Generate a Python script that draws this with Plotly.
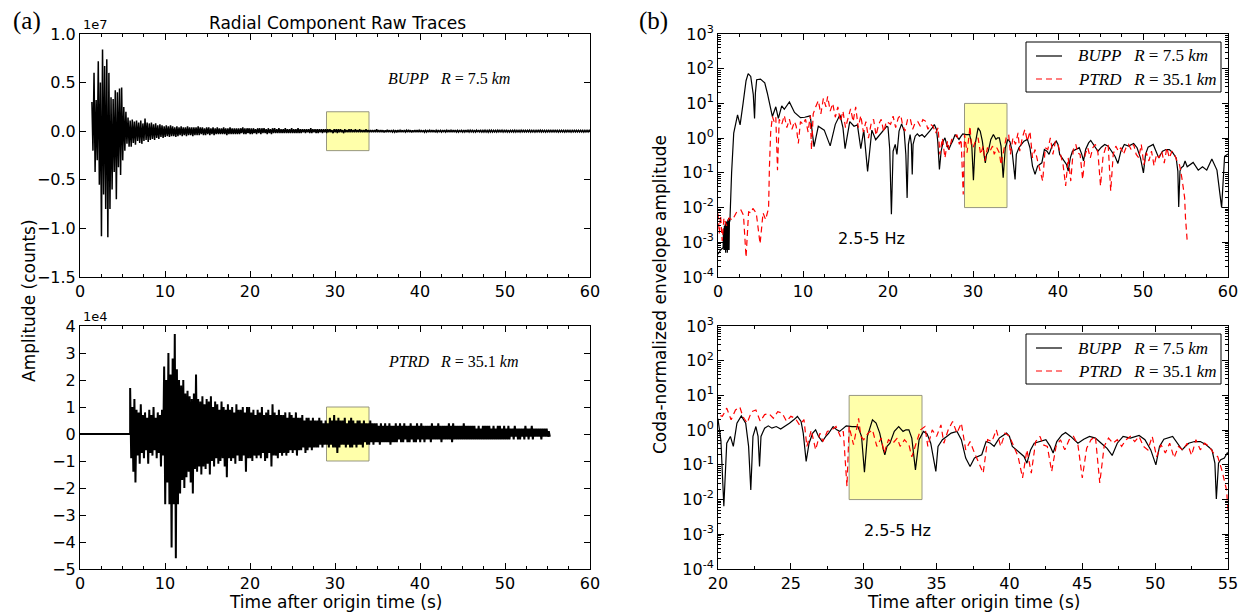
import plotly.graph_objects as go

# ---------------- data ----------------
# Raw radial traces: positive / negative swing every 0.25 s
raw_dt = 0.25                 # s between swings
bupp_raw_start = 1.40         # s, first swing of BUPP
ptrd_raw_start = 5.90         # s, first swing of PTRD (flat before)
bupp_raw_unit = 1e5           # counts per unit below
ptrd_raw_unit = 1e3           # counts per unit below

bupp_raw_up = [
    30, 60, 32, 72, 50, 84, 67, 74, 60, 35, 33, 42, 40, 44, 45, 25,
    20, 14, 11, 12, 10, 11, 9, 11, 8, 13, 9, 8, 9, 7, 8, 6,
    7, 6, 5, 6, 5, 6, 5, 4, 5, 4, 5, 4, 4, 5, 4, 4,
    4, 4, 5, 4, 4, 3, 4, 4, 3, 4, 3, 4, 3, 3, 4, 3,
    3, 4, 3, 3, 3, 3, 3, 4, 3, 3, 3, 3, 3, 2, 3, 3,
    3, 3, 2, 3, 2, 3, 3, 2, 3, 2, 2, 3, 2, 2, 3, 2,
    2, 3, 2, 2, 2, 2, 2, 3, 2, 2, 2, 2, 2, 2, 2, 2,
    2, 1, 2, 2, 2, 2, 1, 2, 1, 2, 2, 1, 2, 1, 2, 1,
    1, 2, 1, 1, 1, 1, 2, 1,
    1.2, 1, 0.9, 1.3, 1, 1.1, 0.8, 1, 1.2, 0.9, 1, 1.1, 0.9, 1.3, 1, 0.8,
    1, 1.1, 0.9, 1.2, 1, 0.8, 1.1, 0.9, 1.2, 1, 0.9, 1, 0.8, 1.1, 1, 0.9,
    1, 0.9, 1.2, 1, 0.9, 1, 0.8, 1.1, 1, 0.9, 1, 0.8, 1.1, 0.9, 1, 0.8,
    0.9, 1, 0.8, 1, 1, 0.8, 0.9, 1, 0.8, 1, 0.9, 0.8, 1, 0.8, 0.9, 1,
    0.8, 0.9, 1, 0.8, 0.9, 0.8, 1, 0.9, 0.8, 0.9, 0.8, 1, 0.9, 0.8, 0.9, 0.8,
    0.8, 0.9, 0.8, 0.9, 0.9, 0.8, 0.8, 0.9, 0.8, 0.9, 0.8, 0.8, 0.9, 0.8, 0.8, 0.9,
    0.8, 0.8, 0.9,
]
bupp_raw_lo = [
    -20, -42, -30, -55, -108, -65, -80, -109, -80, -60, -42, -70, -37, -45, -30, -20,
    -13, -16, -16, -12, -14, -10, -12, -13, -10, -9, -11, -9, -8, -9, -7, -8,
    -6, -7, -6, -5, -6, -5, -5, -6, -5, -4, -5, -4, -5, -4, -4, -5,
    -4, -4, -4, -3, -4, -4, -3, -4, -3, -4, -3, -3, -3, -3, -3, -4,
    -3, -3, -3, -3, -3, -3, -2, -3, -3, -2, -3, -3, -2, -3, -2, -3,
    -2, -2, -3, -2, -3, -2, -2, -2, -2, -2, -2, -2, -2, -2, -2, -2,
    -2, -2, -2, -1, -2, -1, -2, -2, -1, -2, -2, -1, -2, -1, -2, -1,
    -1, -2, -1, -2, -1, -1, -2, -1, -1, -1, -1, -1, -1, -1, -1, -1,
    -1, -1, -1, -1, -1, -1, -1, -1,
    -1, -1.2, -1, -0.9, -1.1, -0.9, -1, -1.2, -0.9, -1, -1.1, -0.9, -1, -0.9, -1.2, -1,
    -0.9, -1, -0.9, -1.1, -1, -0.9, -1, -0.9, -1, -1.1, -0.9, -1, -0.9, -1, -0.9, -1,
    -1, -0.9, -1, -0.9, -0.9, -1, -0.9, -0.8, -1, -0.9, -0.8, -0.9, -0.9, -1, -0.8, -0.9,
    -0.8, -0.9, -1, -0.8, -0.9, -0.8, -0.9, -0.8, -0.8, -0.9, -0.8, -0.9, -0.9, -0.8, -0.8, -0.9,
    -0.8, -0.9, -0.8, -0.8, -0.8, -0.8, -0.9, -0.8, -0.9, -0.8, -0.8, -0.8, -0.8, -0.9, -0.8, -0.8,
    -0.8, -0.8, -0.8, -0.9, -0.8, -0.8, -0.9, -0.8, -0.8, -0.9, -0.8, -0.8, -0.8, -0.8, -0.8, -0.9,
    -0.8, -0.8, -0.8,
]

ptrd_pre_t = [0.0, 5.90]
ptrd_pre_amp = [0, 0]
ptrd_raw_up = [
    17, 10, 13, 9, 8, 11, 7, 8, 6, 9, 7, 10, 6, 8, 7, 9,
    25, 20, 30, 22, 28, 37, 24, 20, 18, 20, 15, 16, 14, 13, 15, 22,
    13, 12, 14, 11, 13, 12, 14, 10, 12, 11, 9, 12, 10, 9, 11, 9,
    10, 8, 11, 9, 9, 10, 8, 10, 10, 8, 9, 7, 9, 8, 10, 7,
    8, 9, 7, 11, 8, 7, 9, 7, 7, 8, 6, 8, 7, 6, 8, 6,
    6, 7, 5, 6, 6, 5, 6, 5, 5, 6, 5, 4, 5, 4, 6, 5,
    7, 5, 6, 5, 5, 6, 4, 5, 6, 5, 4, 5, 5, 4, 5, 4,
    4, 5, 4, 4, 4, 3, 4, 3, 4, 3, 4, 3, 3, 4, 3, 4,
    3, 4, 3, 3, 4, 3, 3, 4, 3, 4, 3, 3, 3, 3, 4, 3,
    3, 4, 3, 3, 3, 3, 4, 3, 4, 3, 3, 3, 3, 4, 3, 3,
    3, 3, 3, 2, 3, 2, 3, 3, 3, 3, 2, 3, 2, 3, 3, 2,
    3, 2, 3, 2, 2, 3, 2, 2, 2, 2, 3, 2, 2, 3, 2, 2,
    2, 2, 2, 2, 2, 1,
]
ptrd_raw_lo = [
    -9, -14, -18, -8, -11, -7, -9, -6, -11, -7, -8, -6, -9, -7, -12, -8,
    -26, -18, -26, -42, -26, -46, -26, -22, -17, -20, -16, -14, -18, -22, -13, -14,
    -12, -15, -12, -13, -11, -15, -10, -12, -9, -11, -10, -9, -12, -16, -9, -10,
    -9, -11, -8, -10, -10, -8, -14, -9, -9, -10, -8, -9, -8, -9, -7, -10,
    -9, -7, -12, -8, -8, -9, -7, -8, -7, -8, -7, -6, -7, -6, -8, -6,
    -6, -5, -7, -6, -5, -6, -5, -5, -5, -4, -5, -4, -4, -5, -4, -5,
    -5, -7, -5, -4, -4, -5, -4, -5, -5, -4, -5, -4, -4, -5, -3, -4,
    -4, -3, -4, -3, -3, -4, -3, -3, -3, -3, -4, -3, -3, -3, -2, -3,
    -3, -2, -3, -3, -2, -3, -3, -2, -3, -2, -3, -2, -2, -3, -2, -2,
    -2, -2, -3, -2, -2, -2, -2, -3, -2, -2, -2, -2, -2, -2, -2, -2,
    -2, -2, -2, -2, -2, -2, -2, -2, -2, -2, -2, -2, -2, -2, -2, -2,
    -2, -2, -2, -1, -2, -1, -2, -2, -1, -2, -1, -2, -1, -2, -1, -1,
    -1, -2, -1, -1, -1, -1,
]

# Coda-normalized envelopes, 2.5-5 Hz: (time s, amplitude)
bupp_env_pts = [
    (0.00, 4.5e-4), (0.30, 6e-4), (0.60, 7e-4), (0.65, 2.5e-3), (0.70, 6e-4), (0.75, 3e-3),
    (0.80, 6e-4), (0.85, 3.5e-3), (0.90, 5e-4), (0.95, 4e-3), (1.00, 6e-4), (1.05, 4e-3),
    (1.10, 5e-4), (1.15, 4.5e-3), (1.20, 6e-4), (1.25, 5e-3), (1.30, 6e-4), (1.35, 5e-3),
    (1.40, 4e-3), (1.60, 0.1), (1.85, 1.4), (2.30, 4.7), (2.60, 2.4), (2.95, 10), (3.30, 45),
    (3.55, 72), (3.85, 60), (4.15, 18), (4.30, 3.7), (4.40, 20), (4.55, 48), (5.00, 50),
    (5.50, 39), (5.80, 20), (6.10, 8), (6.40, 4.2), (6.80, 8), (7.10, 3.7), (7.50, 8.5),
    (7.80, 6.8), (8.40, 11), (9.00, 5.5), (9.70, 3.9), (10.20, 4.0), (10.85, 4.4), (11.30, 0.57),
    (11.80, 2.2), (12.50, 1.7), (13.20, 0.6), (13.80, 2.5), (14.35, 4.7), (14.70, 2.0),
    (14.95, 0.5), (15.50, 3.0), (16.00, 2.2), (16.40, 2.4), (16.80, 0.5), (17.15, 1.7),
    (17.60, 0.11), (18.10, 1.7), (18.55, 0.9), (19.25, 1.4), (19.85, 2.2),
    (20.00, 2.07), (20.20, 0.5), (20.40, 0.0064), (20.60, 0.42), (20.85, 0.66), (21.05, 0.34),
    (21.30, 1.59), (21.60, 2.58), (21.90, 1.59), (22.10, 0.34), (22.25, 0.019), (22.40, 0.66),
    (22.60, 1.27), (22.75, 0.66), (22.85, 0.09), (22.95, 0.66), (23.20, 1.14), (23.45, 1.33),
    (23.70, 1.14), (24.00, 1.27), (24.30, 1.07), (24.60, 1.27), (24.90, 1.59), (25.20, 1.98),
    (25.45, 2.47), (25.70, 1.78), (25.85, 0.82), (26.05, 0.126), (26.25, 0.42), (26.50, 0.82),
    (26.70, 1.02), (26.90, 0.66), (27.15, 0.47), (27.40, 0.66), (27.60, 0.82), (27.90, 1.27),
    (28.15, 1.02), (28.35, 0.92), (28.60, 1.14), (28.80, 1.33), (29.20, 1.27), (29.60, 1.27),
    (29.85, 0.66), (30.05, 0.061), (30.25, 0.66), (30.60, 1.98), (30.85, 1.59), (31.10, 0.82),
    (31.35, 0.27), (31.45, 0.195), (31.60, 0.34), (31.80, 0.42), (32.10, 0.92), (32.40, 1.27),
    (32.70, 0.92), (32.90, 1.02), (33.10, 1.02), (33.30, 0.59), (33.55, 0.072), (33.80, 0.53),
    (34.10, 0.92), (34.35, 0.78), (34.60, 0.42), (34.95, 0.065), (35.10, 0.34), (35.40, 0.53),
    (35.70, 0.66), (36.00, 0.82), (36.40, 0.92), (36.70, 0.53), (37.00, 0.157), (37.30, 0.09),
    (37.60, 0.157), (37.90, 0.175), (38.10, 0.195), (38.40, 0.47), (38.70, 0.42), (38.95, 0.34),
    (39.30, 0.59), (39.80, 0.82), (40.00, 0.66), (40.20, 0.34), (40.50, 0.27), (40.75, 0.22),
    (41.00, 0.175), (41.20, 0.112), (41.45, 0.27), (41.70, 0.42), (42.10, 0.47), (42.50, 0.53),
    (42.80, 0.34), (43.00, 0.22), (43.25, 0.47), (43.60, 0.73), (43.85, 0.86), (44.20, 0.66),
    (44.70, 0.42), (45.10, 0.55), (45.50, 0.66), (45.90, 0.59), (46.30, 0.42), (46.70, 0.30),
    (47.05, 0.187), (47.40, 0.42), (47.80, 0.66), (48.30, 0.59), (48.90, 0.70), (49.30, 0.53),
    (49.70, 0.27), (50.05, 0.10), (50.30, 0.34), (50.60, 0.55), (51.20, 0.66), (51.60, 0.40),
    (51.85, 0.27), (52.10, 0.35), (52.30, 0.42), (52.70, 0.47), (53.10, 0.47), (53.50, 0.38),
    (53.90, 0.27), (54.10, 0.112), (54.20, 0.0104), (54.35, 0.112), (54.50, 0.14), (54.75, 0.157),
    (54.95, 0.22), (55.20, 0.15), (55.90, 0.20), (56.50, 0.12), (57.00, 0.15),
    (57.50, 0.12), (58.10, 0.25), (58.70, 0.12), (59.25, 0.01), (59.60, 0.30), (60.00, 0.35),
]
ptrd_env_pts = [
    (0.00, 6.8e-3), (0.15, 1.8e-3), (0.30, 6e-3), (0.50, 1.1e-3), (0.70, 5e-3), (1.00, 3e-3),
    (1.30, 5e-3), (1.70, 4.4e-3), (2.20, 7.5e-3), (2.70, 8.5e-3), (3.00, 6e-3), (3.30, 3.7e-4),
    (3.60, 7.5e-3), (3.90, 7e-3), (4.10, 9.5e-3), (4.50, 7e-3), (4.95, 9e-4), (5.30, 7e-3),
    (5.60, 4.5e-3), (5.95, 9.5e-3), (6.05, 0.15), (6.20, 1.5), (6.40, 4.2), (6.60, 3.0),
    (6.80, 4.0), (7.00, 0.12), (7.20, 3.5), (7.50, 2.5), (7.80, 4.5), (8.10, 2.0), (8.40, 3.5),
    (8.70, 1.8), (9.00, 3.0), (9.20, 2.2), (9.45, 0.7), (9.70, 3.0), (10.00, 2.5), (10.30, 3.5),
    (10.60, 1.5), (10.85, 4.5), (11.00, 0.46), (11.20, 5.0), (11.50, 8.0), (11.80, 12),
    (12.10, 5.0), (12.40, 14), (12.70, 8.0), (12.90, 16), (13.20, 6.0), (13.50, 10), (13.80, 4.0),
    (14.10, 8.0), (14.40, 3.0), (14.70, 6.0), (15.00, 2.0), (15.30, 4.0), (15.60, 7.0),
    (15.90, 3.0), (16.20, 8.0), (16.50, 2.0), (16.80, 4.5), (17.10, 1.5), (17.40, 3.0),
    (17.70, 1.0), (18.00, 2.5), (18.30, 3.5), (18.60, 1.2), (18.90, 2.5), (19.20, 3.5),
    (19.50, 1.5), (19.80, 3.0), (20.00, 2.8), (20.30, 2.5), (20.60, 4.3), (20.90, 2.0),
    (21.20, 3.8), (21.50, 4.6), (21.70, 2.5), (22.00, 1.6), (22.30, 3.4), (22.60, 3.8),
    (22.90, 1.8), (23.20, 2.8), (23.50, 3.0), (23.80, 2.2), (24.10, 3.4), (24.40, 3.1),
    (24.70, 1.8), (25.00, 2.5), (25.30, 2.2), (25.60, 1.4), (25.90, 2.0), (26.10, 0.34),
    (26.40, 1.0), (26.70, 0.27), (27.00, 0.82), (27.20, 0.47), (27.50, 0.92), (27.80, 1.02),
    (28.10, 1.27), (28.40, 0.66), (28.60, 0.92), (28.85, 0.024), (29.00, 1.27), (29.30, 0.38),
    (29.50, 1.02), (29.65, 2.2), (29.80, 0.66), (30.00, 0.53), (30.30, 0.82), (30.60, 1.02),
    (30.90, 0.34), (31.20, 0.59), (31.40, 0.22), (31.70, 0.53), (32.00, 0.42), (32.30, 0.59),
    (32.50, 0.34), (32.80, 0.53), (33.10, 0.38), (33.30, 0.17), (33.60, 0.42), (33.90, 1.02),
    (34.20, 1.27), (34.40, 0.34), (34.70, 1.02), (35.00, 0.66), (35.30, 1.42), (35.50, 0.42),
    (35.80, 1.02), (36.10, 1.77), (36.40, 0.82), (36.70, 1.59), (37.00, 0.27), (37.30, 0.47),
    (37.60, 0.22), (37.90, 0.11), (38.20, 0.058), (38.50, 0.53), (38.80, 0.47), (39.10, 1.02),
    (39.40, 0.34), (39.70, 0.82), (40.00, 0.66), (40.30, 0.34), (40.60, 0.17), (40.90, 0.042),
    (41.20, 0.27), (41.50, 0.058), (41.80, 0.47), (42.10, 0.66), (42.30, 0.38), (42.60, 0.34),
    (42.90, 0.065), (43.20, 0.34), (43.50, 0.53), (43.80, 0.27), (44.10, 0.53), (44.40, 0.66),
    (44.70, 0.38), (45.00, 0.042), (45.30, 0.30), (45.60, 0.53), (45.90, 0.66), (46.20, 0.03),
    (46.50, 0.34), (46.80, 0.59), (47.10, 0.42), (47.40, 0.53), (47.70, 0.34), (48.00, 0.53),
    (48.30, 0.66), (48.60, 0.47), (48.90, 0.66), (49.20, 0.34), (49.50, 0.27), (49.80, 0.66),
    (50.10, 0.17), (50.40, 0.38), (50.70, 0.22), (51.00, 0.42), (51.30, 0.16), (51.60, 0.34),
    (51.90, 0.27), (52.20, 0.42), (52.50, 0.19), (52.80, 0.53), (53.10, 0.27), (53.40, 0.42),
    (53.70, 0.34), (54.00, 0.22), (54.30, 0.17), (54.60, 0.065), (54.90, 0.019), (55.00, 0.005),
    (55.10, 0.002), (55.20, 0.0011),
]

# Highlighted coda window
win_t = [29, 34]
win_bupp_raw = [-2e6, 2e6]
win_ptrd_raw = [-1e4, 1e4]
win_env = [0.01, 10]

bupp_label = "<i>BUPP</i>\u00a0\u00a0\u00a0<i>R</i>\u00a0=\u00a07.5\u00a0<i>km</i>"
ptrd_label = "<i>PTRD</i>\u00a0\u00a0\u00a0<i>R</i>\u00a0=\u00a035.1\u00a0<i>km</i>"
band_label = "2.5-5 Hz"

# ---------------- figure ----------------
# the page body adds an 8 px margin, so the figure is 8 px smaller and all
# page-pixel positions below are shifted by that offset
PAGE_OFF = 8
W, H = 1250 - PAGE_OFF, 615 - PAGE_OFF
def px_x(p):
    return (p - PAGE_OFF) / W
def px_y(p):
    return 1 - (p - PAGE_OFF) / H

X_LEFT = [px_x(80), px_x(590)]
X_RIGHT = [px_x(718), px_x(1228)]
Y_TOP = [px_y(277), px_y(34)]
Y_BOT = [px_y(569), px_y(326)]

def zigzag(t0, dt, up, lo, unit):
    ts, ys = [], []
    for k, (u, l) in enumerate(zip(up, lo)):
        ts += [t0 + k * dt, t0 + (k + 0.5) * dt]
        ys += [u * unit, l * unit]
    return ts, ys

def box(tw, yw):
    return [tw[0], tw[1], tw[1], tw[0], tw[0]], [yw[0], yw[0], yw[1], yw[1], yw[0]]

fig = go.Figure()
BOX_FILL = "#ffffaa"
BOX_LINE = "rgba(140,140,120,0.9)"
RED = "#ff0000"
DASH = "6px,4px"

# panel (a) top
bx, by = box(win_t, win_bupp_raw)
fig.add_trace(go.Scatter(x=bx, y=by, fill="toself", fillcolor=BOX_FILL, mode="lines",
                         line=dict(color=BOX_LINE, width=1), xaxis="x", yaxis="y"))
tb, yb = zigzag(bupp_raw_start, raw_dt, bupp_raw_up, bupp_raw_lo, bupp_raw_unit)
fig.add_trace(go.Scatter(x=tb, y=yb, mode="lines", line=dict(color="black", width=1.5),
                         xaxis="x", yaxis="y"))

# panel (a) bottom
bx, by = box(win_t, win_ptrd_raw)
fig.add_trace(go.Scatter(x=bx, y=by, fill="toself", fillcolor=BOX_FILL, mode="lines",
                         line=dict(color=BOX_LINE, width=1), xaxis="x2", yaxis="y2"))
tp, yp = zigzag(ptrd_raw_start, raw_dt, ptrd_raw_up, ptrd_raw_lo, ptrd_raw_unit)
fig.add_trace(go.Scatter(x=ptrd_pre_t + tp, y=ptrd_pre_amp + yp, mode="lines",
                         line=dict(color="black", width=2.0), xaxis="x2", yaxis="y2"))

# panels (b)
bt = [p[0] for p in bupp_env_pts]
bv = [p[1] for p in bupp_env_pts]
pt = [p[0] for p in ptrd_env_pts]
pv = [p[1] for p in ptrd_env_pts]
for xa, ya in (("x3", "y3"), ("x4", "y4")):
    bx, by = box(win_t, win_env)
    fig.add_trace(go.Scatter(x=bx, y=by, fill="toself", fillcolor=BOX_FILL, mode="lines",
                             line=dict(color=BOX_LINE, width=1), xaxis=xa, yaxis=ya))
    fig.add_trace(go.Scatter(x=bt, y=bv, mode="lines", name=bupp_label,
                             line=dict(color="black", width=1.2), xaxis=xa, yaxis=ya))
    fig.add_trace(go.Scatter(x=pt, y=pv, mode="lines", name=ptrd_label,
                             line=dict(color=RED, width=1.2, dash=DASH), xaxis=xa, yaxis=ya))

TICKFONT = dict(family="DejaVu Sans", size=16, color="black")
def axis_base(**kw):
    d = dict(showline=True, linecolor="black", linewidth=1, mirror="allticks",
             ticks="inside", ticklen=6, tickwidth=1, tickcolor="black", automargin=False,
             showgrid=False, zeroline=False, tickfont=TICKFONT, fixedrange=True)
    d.update(kw)
    return d

minor_x = dict(ticks="inside", ticklen=3, tickcolor="black", dtick=2.5, showgrid=False)
log_minor_vals = [m * 10.0 ** e for e in range(-4, 3) for m in range(2, 10)]
log_vals = [10.0 ** e for e in range(-4, 4)]
log_text = ["10<sup>%d</sup>" % e for e in range(-4, 4)]

fig.update_layout(
    width=W, height=H, autosize=False, showlegend=False,
    margin=dict(l=0, r=0, t=0, b=0, pad=0, autoexpand=False),
    plot_bgcolor="white", paper_bgcolor="white",
    xaxis=axis_base(domain=X_LEFT, anchor="y", range=[0, 60], tick0=0, dtick=10, minor=minor_x),
    yaxis=axis_base(domain=Y_TOP, anchor="x", range=[-1.5e7, 1.0e7],
                    tickvals=[-1.5e7, -1.0e7, -0.5e7, 0, 0.5e7, 1.0e7],
                    ticktext=["\u22121.5", "\u22121.0", "\u22120.5", "0.0", "0.5", "1.0"]),
    xaxis2=axis_base(domain=X_LEFT, anchor="y2", range=[0, 60], tick0=0, dtick=10, minor=minor_x),
    yaxis2=axis_base(domain=Y_BOT, anchor="x2", range=[-5e4, 4e4],
                     tickvals=[k * 1e4 for k in range(-5, 5)],
                     ticktext=[("\u2212%d" % -k) if k < 0 else str(k) for k in range(-5, 5)]),
    xaxis3=axis_base(domain=X_RIGHT, anchor="y3", range=[0, 60], tick0=0, dtick=10, minor=minor_x),
    yaxis3=axis_base(domain=Y_TOP, anchor="x3", type="log", range=[-4, 3],
                     tickvals=log_vals, ticktext=log_text,
                     minor=dict(ticks="inside", ticklen=3, tickcolor="black",
                                tickvals=log_minor_vals, showgrid=False)),
    xaxis4=axis_base(domain=X_RIGHT, anchor="y4", range=[20, 55], tick0=20, dtick=5, minor=minor_x),
    yaxis4=axis_base(domain=Y_BOT, anchor="x4", type="log", range=[-4, 3],
                     tickvals=log_vals, ticktext=log_text,
                     minor=dict(ticks="inside", ticklen=3, tickcolor="black",
                                tickvals=log_minor_vals, showgrid=False)),
)

# legend boxes (drawn as in the original: framed, white background, inside the axes)
shapes = []
ann = []
SERIF = "Liberation Serif"
SANS = "DejaVu Sans"
for top in (42, 334):
    shapes.append(dict(type="rect", xref="paper", yref="paper", layer="above",
                       x0=px_x(1026), x1=px_x(1221), y0=px_y(top + 50), y1=px_y(top),
                       line=dict(color="black", width=1), fillcolor="white"))
    for row, (lab, col, dash) in enumerate(((bupp_label, "black", "solid"), (ptrd_label, RED, DASH))):
        yy = px_y(top + 14 + 23 * row)
        shapes.append(dict(type="line", xref="paper", yref="paper", layer="above",
                           x0=px_x(1036), x1=px_x(1062), y0=yy, y1=yy,
                           line=dict(color=col, width=1.2, dash=dash)))
        ann.append(dict(text=lab, x=px_x(1076), y=yy, xref="paper", yref="paper",
                        xanchor="left", yanchor="middle", showarrow=False,
                        font=dict(family=SERIF, size=17, color="black")))

def pann(text, x, y, size, family=SANS, angle=0):
    ann.append(dict(text=text, x=px_x(x), y=px_y(y), xref="paper", yref="paper",
                    xanchor="center", yanchor="middle", textangle=angle, showarrow=False,
                    font=dict(family=family, size=size, color="black")))

pann("(a)", 27, 21, 25, SERIF)
pann("(b)", 653, 21, 25, SERIF)
pann("Radial Component Raw Traces", 337, 23, 17)
pann("Amplitude (counts)", 29, 301, 17, angle=-90)
pann("Coda-normalized envelope amplitude", 660, 295, 17, angle=-90)
pann("Time after origin time (s)", 335, 602, 17)
pann("Time after origin time (s)", 973, 602, 17)
ann.append(dict(text="1e7", x=px_x(81), y=Y_TOP[1], xref="paper", yref="paper", xanchor="left",
                yanchor="bottom", showarrow=False, font=dict(family=SANS, size=13, color="black")))
ann.append(dict(text="1e4", x=px_x(81), y=Y_BOT[1], xref="paper", yref="paper", xanchor="left",
                yanchor="bottom", showarrow=False, font=dict(family=SANS, size=13, color="black")))
ann.append(dict(text=bupp_label, x=36, y=0.54e7, xref="x", yref="y", xanchor="left",
                yanchor="middle", showarrow=False, font=dict(family=SERIF, size=16, color="black")))
ann.append(dict(text=ptrd_label, x=36, y=2.7e4, xref="x2", yref="y2", xanchor="left",
                yanchor="middle", showarrow=False, font=dict(family=SERIF, size=16, color="black")))
ann.append(dict(text=band_label, x=18.1, y=-2.88, xref="x3", yref="y3", xanchor="center",
                yanchor="middle", showarrow=False, font=dict(family=SANS, size=16, color="black")))
ann.append(dict(text=band_label, x=32.3, y=-2.88, xref="x4", yref="y4", xanchor="center",
                yanchor="middle", showarrow=False, font=dict(family=SANS, size=16, color="black")))
fig.update_layout(annotations=ann, shapes=shapes)

fig.write_html("out.html")
